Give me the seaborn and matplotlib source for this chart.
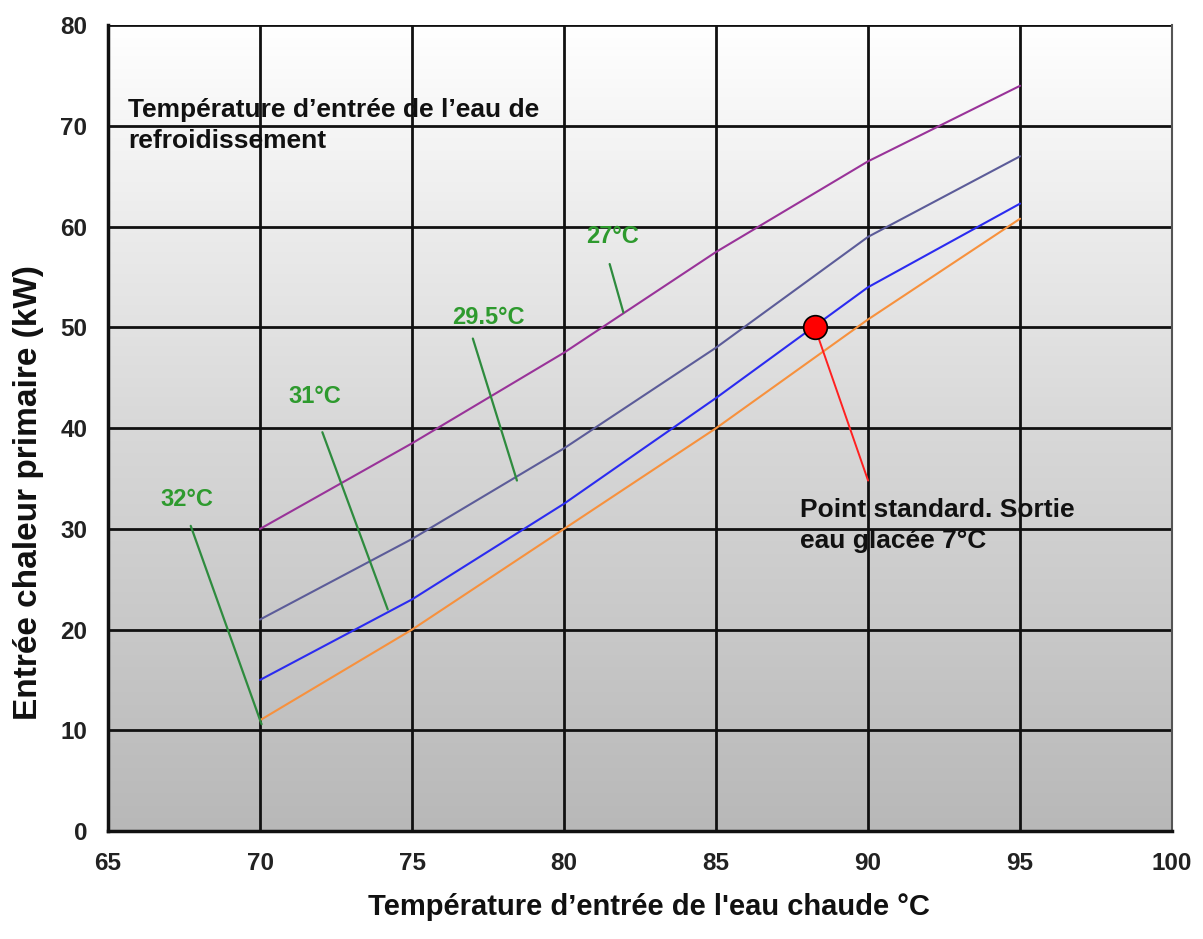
import numpy as np
import pandas as pd
import matplotlib.pyplot as plt
import seaborn as sns
from matplotlib.colors import LinearSegmentedColormap

# =========================
# DATA
# =========================
temp_eau_chaude = [70, 75, 80, 85, 90, 95]

puissance_27 = [30, 38.5, 47.5, 57.5, 66.5, 74]
puissance_29_5 = [21, 29, 38, 48, 59, 67]
puissance_31 = [15, 23, 32.5, 43, 54, 62.3]
puissance_32 = [11, 20, 30, 40, 50.8, 60.8]

series_names = ["27°C", "29.5°C", "31°C", "32°C"]
series_colors = ["#993399", "#5c5c99", "#2b2bf0", "#f7913d"]

# point standard
point_x = [88.25]
point_y = [50]

# green labels: label position, leader start, leader end
label_pos = {
    "27°C": (81.6, 59.0),
    "29.5°C": (77.5, 51.0),
    "31°C": (71.8, 43.1),
    "32°C": (67.6, 32.9),
}
leader_start = {
    "27°C": (81.5, 56.3),
    "29.5°C": (77.0, 48.9),
    "31°C": (72.05, 39.6),
    "32°C": (67.72, 30.3),
}
leader_end = {
    "27°C": (81.95, 51.5),
    "29.5°C": (78.45, 34.8),
    "31°C": (74.2, 22.0),
    "32°C": (70.05, 10.6),
}

x_ticks = [65, 70, 75, 80, 85, 90, 95, 100]
y_ticks = [0, 10, 20, 30, 40, 50, 60, 70, 80]

# =========================
# BUILD DATAFRAME
# =========================
df = pd.DataFrame({
    "x": temp_eau_chaude * 4,
    "y": puissance_27 + puissance_29_5 + puissance_31 + puissance_32,
    "serie": [s for s in series_names for _ in temp_eau_chaude],
})

# =========================
# PLOT
# =========================
sns.set_style("white")
plt.rcParams["font.family"] = ["Liberation Sans", "DejaVu Sans"]

fig = plt.figure(figsize=(12.03, 9.39), dpi=100)
ax = fig.add_axes([0.0898, 0.115, 0.8845, 0.858])

# background gradient: white at top -> grey at bottom
bg_cmap = LinearSegmentedColormap.from_list("bg", ["#b8b8b8", "#d8d8d8", "#ffffff"])
grad = np.linspace(0.0, 1.0, 256).reshape(-1, 1)
ax.imshow(grad, extent=[65, 100, 0, 80], aspect="auto", cmap=bg_cmap,
          origin="lower", zorder=0)

for v in x_ticks[1:]:
    ax.axvline(v, color="#111111", lw=2.0, zorder=1)
for v in y_ticks[1:]:
    ax.axhline(v, color="#111111", lw=2.0, zorder=1)

sns.lineplot(data=df, x="x", y="y", hue="serie", palette=dict(zip(series_names, series_colors)),
             linewidth=1.5, legend=False, ax=ax, zorder=3)

# green labels and leader lines
for name in series_names:
    lx, ly = label_pos[name]
    ax.text(lx, ly, name, color="#2e9a2e", fontsize=17, fontweight="bold",
            ha="center", va="center", zorder=5)
    (x0, y0), (x1, y1) = leader_start[name], leader_end[name]
    ax.plot([x0, x1], [y0, y1], color="#2e8b3e", lw=1.6, zorder=4)

# standard point
ax.plot([point_x[0], 90.0], [point_y[0], 34.8], color="#ff2020", lw=1.4, zorder=4)
sns.scatterplot(x=point_x, y=point_y, s=290, color="#ff0000", edgecolor="black",
                linewidth=1.2, ax=ax, zorder=6)
ax.text(87.75, 33.1, "Point standard. Sortie\neau glacée 7°C", fontsize=19,
        fontweight="bold", color="#111111", ha="left", va="top", linespacing=1.4, zorder=5)

ax.text(65.65, 72.8, "Température d\u2019entrée de l\u2019eau de\nrefroidissement",
        fontsize=19, fontweight="bold", color="#111111", ha="left", va="top",
        linespacing=1.4, zorder=5)

ax.set_xlim(65, 100)
ax.set_ylim(0, 80)
ax.set_xticks(x_ticks)
ax.set_yticks(y_ticks)
ax.tick_params(axis="both", direction="out", length=7, width=2, color="#111111",
               labelsize=17.5)
ax.tick_params(axis="x", pad=8)
ax.tick_params(axis="y", pad=8)
for lab in ax.get_xticklabels() + ax.get_yticklabels():
    lab.set_fontweight("bold")
    lab.set_color("#222222")

for side in ["left", "bottom"]:
    ax.spines[side].set_color("#111111")
    ax.spines[side].set_linewidth(2.5)
ax.spines["right"].set_color("#555555")
ax.spines["right"].set_linewidth(1.5)
ax.spines["top"].set_visible(False)

ax.set_xlabel("Température d\u2019entrée de l'eau chaude °C", fontsize=21,
              fontweight="bold", color="#111111")
ax.xaxis.set_label_coords(0.508, -0.077)
ax.set_ylabel("Entrée chaleur primaire (kW)", fontsize=24,
              fontweight="bold", color="#111111")
ax.yaxis.set_label_coords(-0.06, 0.42)

fig.savefig("out.png", dpi=100)
